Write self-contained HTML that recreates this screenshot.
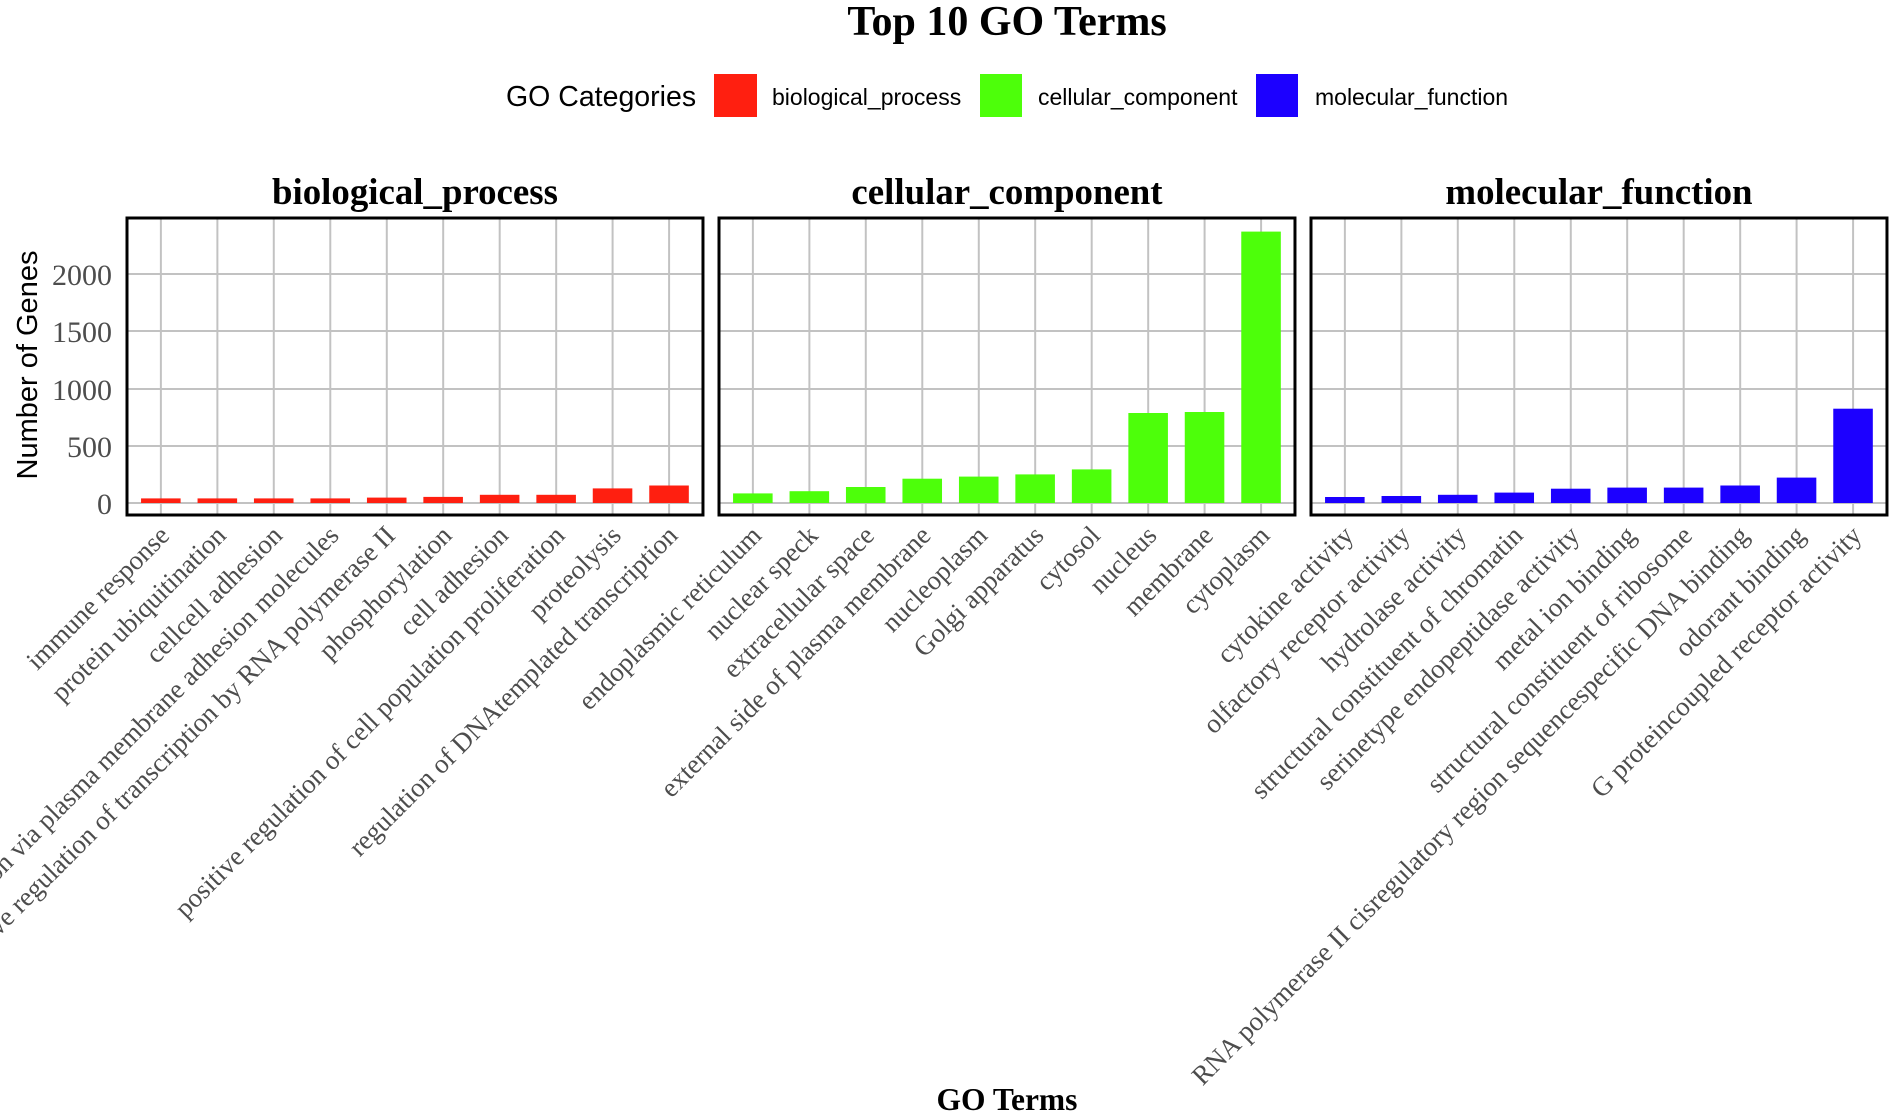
<!DOCTYPE html>
<html><head><meta charset="utf-8"><style>
html,body{margin:0;padding:0;background:#fff;}
svg{display:block;}
.tk{font-family:"Liberation Serif",serif;font-size:30px;fill:#4d4d4d;}
.xl{font-family:"Liberation Serif",serif;font-size:27px;fill:#4d4d4d;}
.st{font-family:"Liberation Serif",serif;font-size:37px;font-weight:bold;fill:#000;}
.lg{font-family:"Liberation Sans",sans-serif;font-size:23px;fill:#000;}
</style></head><body>
<svg width="1900" height="1118" viewBox="0 0 1900 1118" xmlns="http://www.w3.org/2000/svg">
<text x="1007" y="35" text-anchor="middle" font-family="Liberation Serif,serif" font-size="42" font-weight="bold">Top 10 GO Terms</text>
<text x="506" y="106" font-family="Liberation Sans,sans-serif" font-size="28.5">GO Categories</text>
<rect x="714" y="74" width="43" height="43" fill="#ff1f10"/>
<text x="772" y="105" class="lg">biological_process</text>
<rect x="980" y="74" width="42" height="43" fill="#4dff0a"/>
<text x="1038" y="105" class="lg">cellular_component</text>
<rect x="1256" y="74" width="42" height="43" fill="#1c00ff"/>
<text x="1315" y="105" class="lg">molecular_function</text>

<text transform="translate(37,365) rotate(-90)" text-anchor="middle" font-family="Liberation Sans,sans-serif" font-size="29">Number of Genes</text>
<g class="tk" text-anchor="end">
<text x="112" y="514">0</text><text x="112" y="457">500</text><text x="112" y="400">1000</text><text x="112" y="342">1500</text><text x="112" y="285">2000</text>
</g>

<defs>
<g id="grid">
<rect x="0" y="218" width="578" height="297" fill="#fff"/>
<g stroke="#c2c2c2" stroke-width="2">
<line x1="0" x2="578" y1="503" y2="503"/><line x1="0" x2="578" y1="446" y2="446"/><line x1="0" x2="578" y1="389" y2="389"/><line x1="0" x2="578" y1="331" y2="331"/><line x1="0" x2="578" y1="274" y2="274"/>
<line x1="34" x2="34" y1="218" y2="515"/><line x1="90.7" x2="90.7" y1="218" y2="515"/><line x1="147.3" x2="147.3" y1="218" y2="515"/><line x1="204" x2="204" y1="218" y2="515"/><line x1="260.7" x2="260.7" y1="218" y2="515"/><line x1="317.3" x2="317.3" y1="218" y2="515"/><line x1="374" x2="374" y1="218" y2="515"/><line x1="430.7" x2="430.7" y1="218" y2="515"/><line x1="487.3" x2="487.3" y1="218" y2="515"/><line x1="544" x2="544" y1="218" y2="515"/>
</g>
</g>
<rect id="frame" x="0" y="218" width="578" height="297" fill="none" stroke="#000" stroke-width="3"/>
</defs>

<!-- Panel 1 -->
<g transform="translate(127,0) scale(0.9965,1)">
<use href="#grid"/>
<g fill="#ff1f10">
<rect x="14.1" y="498.4" width="39.7" height="4.6"/>
<rect x="70.8" y="498.4" width="39.7" height="4.6"/>
<rect x="127.4" y="498.4" width="39.7" height="4.6"/>
<rect x="184.1" y="498.4" width="39.7" height="4.6"/>
<rect x="240.8" y="497.6" width="39.7" height="5.4"/>
<rect x="297.4" y="496.9" width="39.7" height="6.1"/>
<rect x="354.1" y="494.8" width="39.7" height="8.2"/>
<rect x="410.8" y="494.8" width="39.7" height="8.2"/>
<rect x="467.4" y="488.4" width="39.7" height="14.6"/>
<rect x="524.1" y="485.5" width="39.7" height="17.5"/>
</g>
<use href="#frame"/>
<text x="289" y="204" text-anchor="middle" class="st">biological_process</text>
<g class="xl" text-anchor="end">
<text transform="translate(44,537) rotate(-45)">immune response</text>
<text transform="translate(100.7,537) rotate(-45)">protein ubiquitination</text>
<text transform="translate(157.3,537) rotate(-45)">cellcell adhesion</text>
<text transform="translate(214,537) rotate(-45)">homophilic cell adhesion via plasma membrane adhesion molecules</text>
<text transform="translate(270.7,537) rotate(-45)">positive regulation of transcription by RNA polymerase II</text>
<text transform="translate(327.3,537) rotate(-45)">phosphorylation</text>
<text transform="translate(384,537) rotate(-45)">cell adhesion</text>
<text transform="translate(440.7,537) rotate(-45)">positive regulation of cell population proliferation</text>
<text transform="translate(497.3,537) rotate(-45)">proteolysis</text>
<text transform="translate(554,537) rotate(-45)">regulation of DNAtemplated transcription</text>
</g>
</g>

<!-- Panel 2 -->
<g transform="translate(719,0) scale(0.9965,1)">
<use href="#grid"/>
<g fill="#4dff0a">
<rect x="14.1" y="493.4" width="39.7" height="9.6"/>
<rect x="70.8" y="491.2" width="39.7" height="11.8"/>
<rect x="127.4" y="487" width="39.7" height="16"/>
<rect x="184.1" y="478.7" width="39.7" height="24.3"/>
<rect x="240.8" y="476.6" width="39.7" height="26.4"/>
<rect x="297.4" y="474.4" width="39.7" height="28.6"/>
<rect x="354.1" y="469.4" width="39.7" height="33.6"/>
<rect x="410.8" y="413" width="39.7" height="90"/>
<rect x="467.4" y="412" width="39.7" height="91"/>
<rect x="524.1" y="231.6" width="39.7" height="271.4"/>
</g>
<use href="#frame"/>
<text x="289" y="204" text-anchor="middle" class="st">cellular_component</text>
<g class="xl" text-anchor="end">
<text transform="translate(44,537) rotate(-45)">endoplasmic reticulum</text>
<text transform="translate(100.7,537) rotate(-45)">nuclear speck</text>
<text transform="translate(157.3,537) rotate(-45)">extracellular space</text>
<text transform="translate(214,537) rotate(-45)">external side of plasma membrane</text>
<text transform="translate(270.7,537) rotate(-45)">nucleoplasm</text>
<text transform="translate(327.3,537) rotate(-45)">Golgi apparatus</text>
<text transform="translate(384,537) rotate(-45)">cytosol</text>
<text transform="translate(440.7,537) rotate(-45)">nucleus</text>
<text transform="translate(497.3,537) rotate(-45)">membrane</text>
<text transform="translate(554,537) rotate(-45)">cytoplasm</text>
</g>
</g>

<!-- Panel 3 -->
<g transform="translate(1311,0) scale(0.9965,1)">
<use href="#grid"/>
<g fill="#1c00ff">
<rect x="14.1" y="497" width="39.7" height="6"/>
<rect x="70.8" y="496" width="39.7" height="7"/>
<rect x="127.4" y="494.8" width="39.7" height="8.2"/>
<rect x="184.1" y="492.6" width="39.7" height="10.4"/>
<rect x="240.8" y="488.7" width="39.7" height="14.3"/>
<rect x="297.4" y="487.6" width="39.7" height="15.4"/>
<rect x="354.1" y="487.6" width="39.7" height="15.4"/>
<rect x="410.8" y="485.5" width="39.7" height="17.5"/>
<rect x="467.4" y="477.6" width="39.7" height="25.4"/>
<rect x="524.1" y="408.7" width="39.7" height="94.3"/>
</g>
<use href="#frame"/>
<text x="289" y="204" text-anchor="middle" class="st">molecular_function</text>
<g class="xl" text-anchor="end">
<text transform="translate(44,537) rotate(-45)">cytokine activity</text>
<text transform="translate(100.7,537) rotate(-45)">olfactory receptor activity</text>
<text transform="translate(157.3,537) rotate(-45)">hydrolase activity</text>
<text transform="translate(214,537) rotate(-45)">structural constituent of chromatin</text>
<text transform="translate(270.7,537) rotate(-45)">serinetype endopeptidase activity</text>
<text transform="translate(327.3,537) rotate(-45)">metal ion binding</text>
<text transform="translate(384,537) rotate(-45)">structural constituent of ribosome</text>
<text transform="translate(440.7,537) rotate(-45)">RNA polymerase II cisregulatory region sequencespecific DNA binding</text>
<text transform="translate(497.3,537) rotate(-45)">odorant binding</text>
<text transform="translate(554,537) rotate(-45)">G proteincoupled receptor activity</text>
</g>
</g>

<text x="1007" y="1110" text-anchor="middle" font-family="Liberation Serif,serif" font-size="31.5" font-weight="bold">GO Terms</text>
</svg>
</body></html>
